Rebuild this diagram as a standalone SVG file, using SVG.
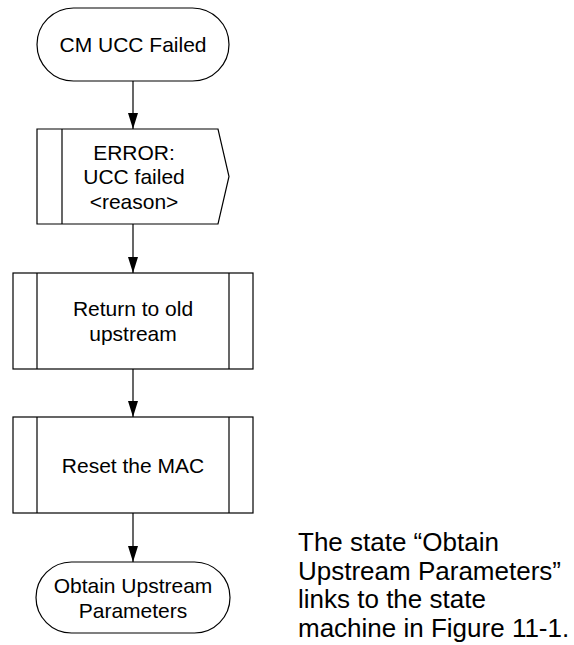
<svg xmlns="http://www.w3.org/2000/svg" width="574" height="645" viewBox="0 0 574 645">
<style>
.s{fill:#fff;stroke:#000;stroke-width:1.2}
.t{font-family:"Liberation Sans",Arial,sans-serif;font-size:21px;fill:#000;text-anchor:middle}
.n{font-family:"Liberation Sans",Arial,sans-serif;font-size:26px;fill:#000}
.c{stroke:#000;stroke-width:1.2;fill:none}
</style>
<defs>
<marker id="ah" markerWidth="16" markerHeight="10" refX="16" refY="5" orient="auto" markerUnits="userSpaceOnUse" viewBox="0 0 16 10">
<path d="M0,0 L16,5 L0,10 Z" fill="#000"/>
</marker>
</defs>
<g id="connectors">
<line class="c" x1="133" y1="81" x2="133" y2="129" marker-end="url(#ah)"/>
<line class="c" x1="133" y1="224" x2="133" y2="273" marker-end="url(#ah)"/>
<line class="c" x1="133" y1="369" x2="133" y2="417" marker-end="url(#ah)"/>
<line class="c" x1="133" y1="513" x2="133" y2="562" marker-end="url(#ah)"/>
</g>
<g id="start">
<rect class="s" x="37" y="8" width="192" height="73" rx="36.5" ry="36.5"/>
<text class="t" x="133" y="52">CM UCC Failed</text>
</g>
<g id="error">
<path class="s" d="M37,129 H218 L229,176.5 L218,224 H37 Z"/>
<line class="c" x1="62" y1="129" x2="62" y2="224"/>
<text class="t" x="134" y="159.5">ERROR:</text>
<text class="t" x="134" y="184">UCC failed</text>
<text class="t" x="134" y="208.5">&lt;reason&gt;</text>
</g>
<g id="return">
<rect class="s" x="13" y="273" width="240" height="96"/>
<line class="c" x1="37" y1="273" x2="37" y2="369"/>
<line class="c" x1="229" y1="273" x2="229" y2="369"/>
<text class="t" x="133" y="316">Return to old</text>
<text class="t" x="133" y="340.5">upstream</text>
</g>
<g id="reset">
<rect class="s" x="13" y="417" width="240" height="96"/>
<line class="c" x1="37" y1="417" x2="37" y2="513"/>
<line class="c" x1="229" y1="417" x2="229" y2="513"/>
<text class="t" x="133" y="472.5">Reset the MAC</text>
</g>
<g id="obtain">
<rect class="s" x="36" y="562" width="194" height="71" rx="35.5" ry="35.5"/>
<text class="t" x="133" y="593">Obtain Upstream</text>
<text class="t" x="133" y="617.5">Parameters</text>
</g>
<g id="note">
<text class="n" x="298" y="551">The state “Obtain</text>
<text class="n" x="298" y="579.5">Upstream Parameters”</text>
<text class="n" x="298" y="608">links to the state</text>
<text class="n" x="298" y="636.5">machine in Figure 11-1.</text>
</g>
</svg>
